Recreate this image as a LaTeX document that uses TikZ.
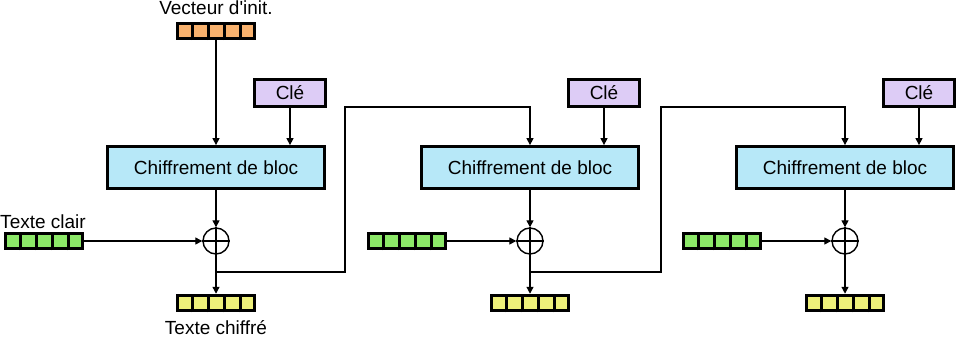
\documentclass[tikz,border=0pt]{standalone}
\usepackage{fontspec}
\setmainfont{Liberation Sans}
\usetikzlibrary{arrows.meta,calc}
\definecolor{ivc}{HTML}{F9B26E}
\definecolor{ptc}{HTML}{8CE868}
\definecolor{ctc}{HTML}{EEF07A}
\definecolor{keyc}{HTML}{DDCCF6}
\definecolor{encc}{HTML}{B7E8F8}
\tikzset{
  blkcells/.style={draw=black, line width=3pt, minimum width=77pt, minimum height=15.5pt, inner sep=0pt},
  encbox/.style={draw=black, line width=2.8pt, fill=encc, minimum width=217pt, minimum height=42pt, inner sep=0pt, font=\fontsize{19}{21}\selectfont},
  keybox/.style={draw=black, line width=2.8pt, fill=keyc, minimum width=70.5pt, minimum height=27pt, inner sep=0pt, font=\fontsize{19}{21}\selectfont},
  xorc/.style={draw=black, line width=1.4pt, circle, minimum size=26pt, inner sep=0pt},
  lbltxt/.style={font=\fontsize{19}{21}\selectfont, anchor=base, inner sep=0pt},
  arrw/.style={line width=1.3pt, -{Triangle[length=7pt,width=7pt]}},
}
\newcommand{\celldiv}[1]{%
  \foreach \i in {1,...,4}{\draw[line width=3pt] ($(#1.south west)!\i/5!(#1.south east)$) -- ($(#1.north west)!\i/5!(#1.north east)$);}}
\begin{document}
\begin{tikzpicture}[x=1pt,y=-1pt]
\useasboundingbox (0,0) rectangle (960,337);
% IV
\node[lbltxt] (ivl) at (216,15) {Vecteur d\textquotesingle init.};
\node[blkcells, fill=ivc] (iv) at (216,31) {};
\celldiv{iv}
% stage nodes
\foreach \n/\s/\p in {1/216/44, 2/530/407, 3/845/722}{
  \node[encbox] (enc\n) at (\s,167.5) {Chiffrement de bloc};
  \node[keybox] (key\n) at (\s+74,93) {Clé};
  \node[xorc] (x\n) at (\s,241) {};
  \node[blkcells, fill=ptc] (pt\n) at (\p,241) {};
  \node[blkcells, fill=ctc] (ct\n) at (\s,303) {};
}
\foreach \n in {1,2,3}{
  \celldiv{pt\n}
  \celldiv{ct\n}
  \draw[line width=1.4pt] (x\n.north) -- (x\n.south) (x\n.west) -- (x\n.east);
  \draw[arrw] (key\n.south) -- (key\n.south |- enc\n.north);
  \draw[arrw] (enc\n.south) -- (x\n.north);
  \draw[arrw] (pt\n.east) -- (x\n.west);
  \draw[arrw] (x\n.south) -- (ct\n.north);
}
\node[lbltxt] (ptl) at (43,228) {Texte clair};
\node[lbltxt] (ctl) at (216,334) {Texte chiffré};
\draw[arrw] (iv.south) -- (enc1.north);
% feedback
\coordinate (c1) at (345,272);
\coordinate (c2) at (661,272);
\coordinate (t1) at (345,107);
\coordinate (t2) at (661,107);
\draw[arrw] (x1.south |- c1) -- (c1) -- (t1) -- (enc2.north |- t1) -- (enc2.north);
\draw[arrw] (x2.south |- c2) -- (c2) -- (t2) -- (enc3.north |- t2) -- (enc3.north);
\end{tikzpicture}
\end{document}
